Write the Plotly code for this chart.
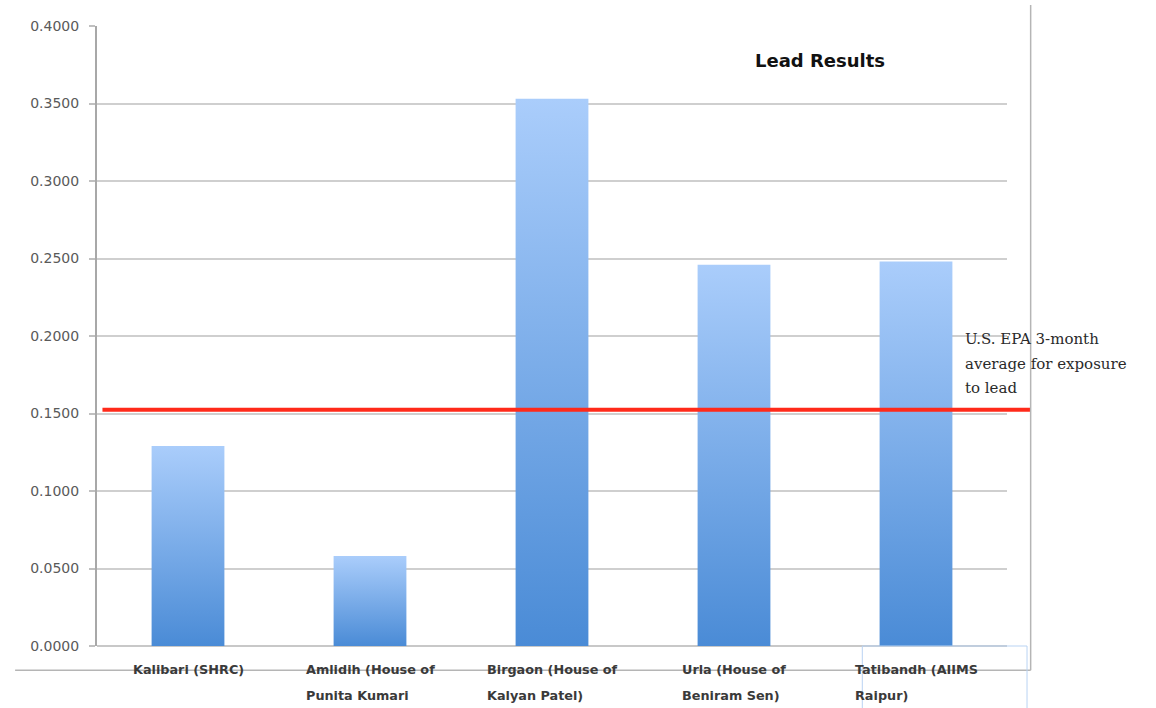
import plotly.graph_objects as go

# Lead concentration by sampling site
sites = [
    ["Kalibari (SHRC)"],
    ["Amlidih (House of", "Punita Kumari"],
    ["Birgaon (House of", "Kalyan Patel)"],
    ["Urla (House of", "Beniram Sen)"],
    ["Tatibandh (AIIMS", "Raipur)"],
]
lead_values = [0.129, 0.058, 0.353, 0.246, 0.248]
epa_limit = 0.1525
epa_label = ["U.S. EPA 3-month", "average for exposure", "to lead"]
y_ticks = [0.0, 0.05, 0.10, 0.15, 0.20, 0.25, 0.30, 0.35, 0.40]

BAR_HALF = 0.2
BAR_TOP = "#aacdfb"
BAR_BOTTOM = "#4a8bd6"


def spaced_lines(lines, px):
    """Join lines, shrinking the glyphs while the outer font sets line spacing."""
    return "<br>".join(f"<span style='font-size:{px}px'>{t}</span>" for t in lines)


fig = go.Figure()

# each bar is a filled outline so it can carry a vertical gradient
for i, v in enumerate(lead_values):
    fig.add_trace(go.Scatter(
        x=[i - BAR_HALF, i - BAR_HALF, i + BAR_HALF, i + BAR_HALF, i - BAR_HALF],
        y=[0, v, v, 0, 0],
        mode="lines",
        line=dict(width=0, color="rgba(0,0,0,0)"),
        fill="toself",
        fillgradient=dict(type="vertical",
                          colorscale=[[0, BAR_BOTTOM], [1, BAR_TOP]]),
        hoverinfo="text",
        text=f"{v:.4f}",
        showlegend=False,
    ))

# category labels: wrapped blocks, lines left-aligned
for i, s in enumerate(sites):
    fig.add_annotation(
        x=i, y=0, xref="x", yref="paper",
        text=spaced_lines(s, 12.8), showarrow=False,
        xanchor="center", yanchor="top", align="left", yshift=-14,
        font=dict(family="DejaVu Sans", size=20, color="#3a3a3a", weight="bold"),
    )

# EPA reference line
fig.add_shape(type="line", xref="paper", yref="y",
              x0=0.006, x1=1.026, y0=epa_limit, y1=epa_limit,
              line=dict(color="#ff2a1a", width=4), layer="above")
fig.add_annotation(
    x=1.0, y=0.205, xref="paper", yref="y", text=spaced_lines(epa_label, 15),
    showarrow=False, xanchor="left", yanchor="top", align="left",
    xshift=-44,
    font=dict(family="DejaVu Serif", size=19, color="#2a2a2a"),
)

# title
fig.add_annotation(
    x=0.794, y=0.945, xref="paper", yref="paper", text="<b>Lead Results</b>",
    showarrow=False, xanchor="center", yanchor="middle",
    font=dict(family="DejaVu Sans", size=18, color="#111111"),
)

# outer chart frame (right and bottom edges)
fig.add_shape(type="line", xref="paper", yref="paper",
              x0=1.026, x1=1.026, y0=-0.039, y1=1.034,
              line=dict(color="#b5b5b5", width=1.5))
fig.add_shape(type="line", xref="paper", yref="paper",
              x0=-0.09, x1=1.026, y0=-0.039, y1=-0.039,
              line=dict(color="#b5b5b5", width=1.5), layer="below")
# selection box round the last label
fig.add_shape(type="rect", xref="paper", yref="paper",
              x0=0.841, x1=1.022, y0=-0.105, y1=0.0,
              line=dict(color="#b9d3f3", width=1))

fig.update_layout(
    width=1156, height=708,
    margin=dict(l=97, r=149, t=26, b=62),
    paper_bgcolor="white", plot_bgcolor="white",
    showlegend=False,
)
fig.update_xaxes(
    range=[-0.5, 4.5], showticklabels=False, showgrid=False,
    zeroline=False, showline=False, fixedrange=True,
)
fig.update_yaxes(
    range=[0, 0.4], tickvals=y_ticks, tickformat=".4f",
    showgrid=True, gridcolor="#cfcfcf", gridwidth=2,
    showline=True, linecolor="#a8a8a8", linewidth=2,
    ticks="outside", ticklen=6, tickcolor="#c0c0c0", tickwidth=2,
    zeroline=True, zerolinecolor="#c8c8c8", zerolinewidth=2,
    tickfont=dict(family="DejaVu Sans", size=14, color="#5a5a5a"),
    ticklabelstandoff=7,
)

fig.write_html("out.html")
